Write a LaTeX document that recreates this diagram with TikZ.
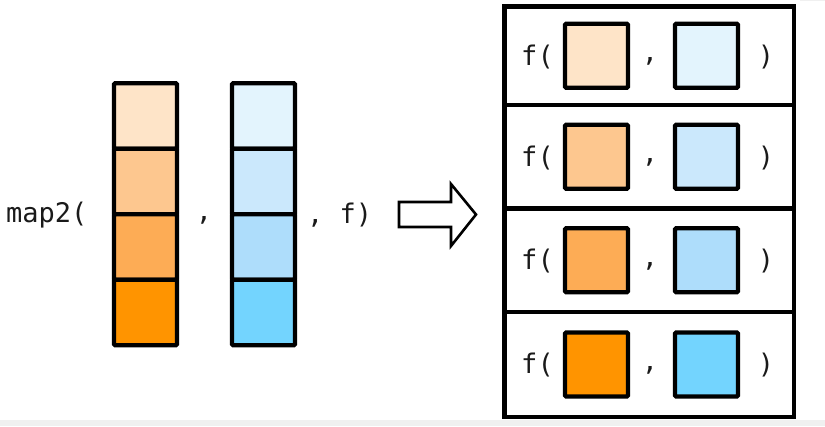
\documentclass[tikz,border=0pt]{standalone}
\usepackage{fontspec}
\setmonofont{DejaVu Sans Mono}
\definecolor{o1}{HTML}{FEE4C8}
\definecolor{o2}{HTML}{FDC78F}
\definecolor{o3}{HTML}{FDAC55}
\definecolor{o4}{HTML}{FF9400}
\definecolor{b1}{HTML}{E3F4FD}
\definecolor{b2}{HTML}{CBE8FC}
\definecolor{b3}{HTML}{AEDDFB}
\definecolor{b4}{HTML}{73D4FE}
\definecolor{txt}{HTML}{1A1A1A}
\definecolor{edge}{HTML}{F0F0F0}
\begin{document}
\begin{tikzpicture}[x=1pt,y=-1pt,
  cell/.style={draw=black,line width=4.2pt,rounded corners=1pt,minimum width=63pt,minimum height=65.5pt,inner sep=0pt},
  sq/.style={draw=black,line width=4.2pt,rounded corners=1pt,minimum width=63pt,minimum height=64pt,inner sep=0pt},
  rowbox/.style={draw=black,line width=4.2pt,minimum width=289.5pt,inner sep=0pt},
  code/.style={font=\ttfamily\fontsize{27}{30}\selectfont,text=txt,inner sep=0pt}]
\useasboundingbox (0,0) rectangle (825,426);
\fill[edge] (0,420) rectangle (825,426);
\draw[edge,line width=1pt] (800,0.5) -- (825,0.5);
% left vectors
\foreach \i/\c in {0/o1,1/o2,2/o3,3/o4}{
  \node[cell,fill=\c] (a\i) at (145.5,116+\i*65.5) {};
}
\foreach \i/\c in {0/b1,1/b2,2/b3,3/b4}{
  \node[cell,fill=\c] (v\i) at (263.5,116+\i*65.5) {};
}
\node[code,anchor=west] (map) at (6,215) {map2(};
\node[code] (c1) at (204,220) {,};
\node[code,anchor=west] (ff) at (307,215) {, f)};
% big arrow
\draw[line width=2.6pt,line join=miter] (399,202) -- (451,202) -- (451,184) -- (476,214.5) -- (451,246) -- (451,227) -- (399,227) -- cycle;
% right rows
\foreach \i/\t/\h/\oc/\bc in {0/6.5/98.5/o1/b1,1/105/103.5/o2/b2,2/208.5/103.5/o3/b3,3/312/105/o4/b4}{
  \node[rowbox,minimum height=\h pt] (r\i) at (649.25,\t+\h/2) {};
  \node[code] (f\i) at (537.5,\t+\h/2+1) {f(};
  \node[sq,fill=\oc] (x\i) at (596.5,\t+\h/2) {};
  \node[code] (k\i) at (650,\t+\h/2+6) {,};
  \node[sq,fill=\bc] (y\i) at (706.5,\t+\h/2) {};
  \node[code] (p\i) at (766,\t+\h/2+1) {)};
}
\end{tikzpicture}
\end{document}
